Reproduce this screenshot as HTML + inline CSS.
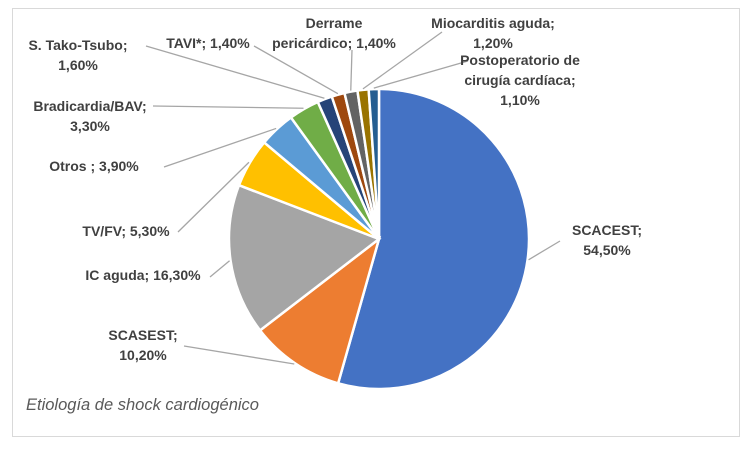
<!DOCTYPE html>
<html><head><meta charset="utf-8"><style>
body{margin:0;background:#fff;}
svg text{font-family:"Liberation Sans",sans-serif;}
</style></head><body>
<svg id="c" width="750" height="444" viewBox="0 0 750 444" xmlns="http://www.w3.org/2000/svg">
<rect x="12.5" y="8.5" width="727" height="428" fill="#fff" stroke="#d9d9d9"/>
<g id="slices"></g><g id="leaders"></g><g id="labels"></g>
<text x="26" y="410" font-size="16.5" font-style="italic" fill="#595959">Etiología de shock cardiogénico</text>
</svg>
<script>
const categories=["SCACEST","SCASEST","IC aguda","TV/FV","Otros ","Bradicardia/BAV","S. Tako-Tsubo","TAVI*","Derrame pericárdico","Miocarditis aguda","Postoperatorio de cirugía cardíaca"];
const values=[54.5,10.2,16.3,5.3,3.9,3.3,1.6,1.4,1.4,1.2,1.1];
const valueLabels=["54,50%","10,20%","16,30%","5,30%","3,90%","3,30%","1,60%","1,40%","1,40%","1,20%","1,10%"];
const colors=["#4472C4","#ED7D31","#A5A5A5","#FFC000","#5B9BD5","#70AD47","#264478","#9E480E","#636363","#997300","#255E91"];
const labelLines=[["SCACEST;","54,50%"],["SCASEST;","10,20%"],["IC aguda; 16,30%"],["TV/FV; 5,30%"],["Otros ; 3,90%"],["Bradicardia/BAV;","3,30%"],["S. Tako-Tsubo;","1,60%"],["TAVI*; 1,40%"],["Derrame","pericárdico; 1,40%"],["Miocarditis aguda;","1,20%"],["Postoperatorio de","cirugía cardíaca;","1,10%"]];
const labelPos=[[607,235],[143,340],[143,280],[126,236],[94,171],[90,111],[78,50],[208,48],[334,28],[493,28],[520,65]];
const anchors=[[560,241],[184,346],[210,277],[178,232],[164,167],[153,106],[146,46],[254,46],[352,50],[442,32],[468,61]];
const NS="http://www.w3.org/2000/svg";
const cx=379,cy=239,r=150;
const total=values.reduce((a,b)=>a+b,0);
function pt(a,rr){return [cx+rr*Math.sin(a),cy-rr*Math.cos(a)];}
let a0=0;
const gs=document.getElementById('slices'),gl=document.getElementById('leaders'),gt=document.getElementById('labels');
values.forEach((v,i)=>{
  const a1=a0+v/total*2*Math.PI;
  const p0=pt(a0,r),p1=pt(a1,r);
  const path=document.createElementNS(NS,'path');
  path.setAttribute('d',`M${cx},${cy}L${p0[0]},${p0[1]}A${r},${r} 0 ${a1-a0>Math.PI?1:0} 1 ${p1[0]},${p1[1]}Z`);
  path.setAttribute('fill',colors[i]);path.setAttribute('stroke','#fff');path.setAttribute('stroke-width','2.5');
  
  
  gs.appendChild(path);
  const mid=(a0+a1)/2,pe=pt(mid,r+1),an=anchors[i];
  const ln=document.createElementNS(NS,'polyline');
  ln.setAttribute('points',`${an[0]},${an[1]} ${pe[0]},${pe[1]}`);
  ln.setAttribute('fill','none');ln.setAttribute('stroke','#a6a6a6');ln.setAttribute('stroke-width','1.3');
  
  
  gl.appendChild(ln);
  const t=document.createElementNS(NS,'text');
  t.setAttribute('text-anchor','middle');t.setAttribute('font-size','14');t.setAttribute('font-weight','bold');t.setAttribute('fill','#404040');
  
  
  labelLines[i].forEach((s,k)=>{const ts=document.createElementNS(NS,'tspan');ts.setAttribute('x',labelPos[i][0]);ts.setAttribute('y',labelPos[i][1]+k*20);ts.textContent=s;t.appendChild(ts);});
  gt.appendChild(t);
  a0=a1;
});
</script>
</body></html>
